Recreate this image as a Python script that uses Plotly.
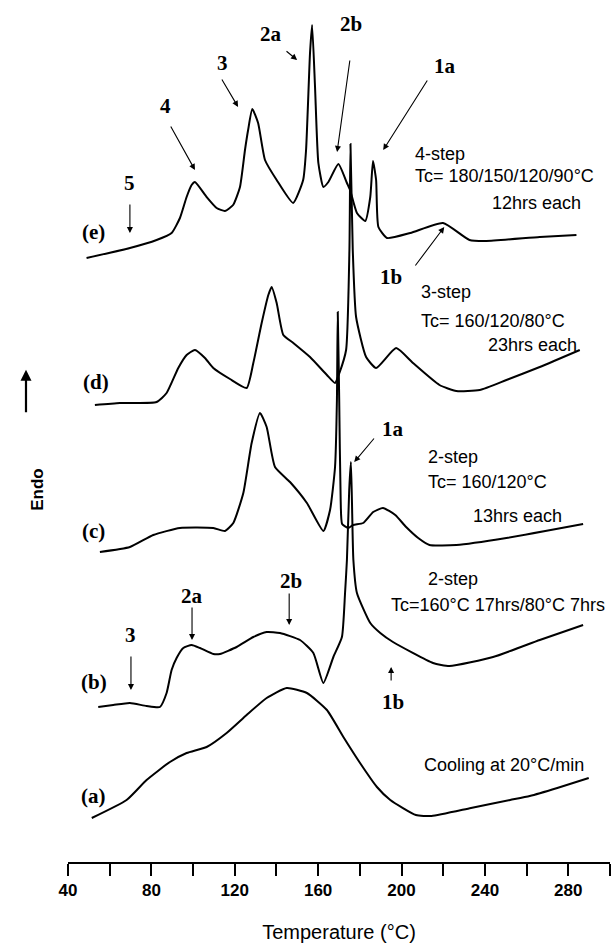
import plotly.graph_objects as go

# ---------------- data (temperature in °C, endotherm signal in arbitrary offset units) ----------------
temp_e = [48.9, 69.7, 82.5, 89.7, 93.7, 96.9, 99.3, 100.9, 106.5, 111.3, 115.3, 119.2, 122.5, 124.9,
          126.4, 128.4, 131.2, 134.5, 140.1, 148.0, 152.8, 154.2, 156.1, 157.1, 158.5, 160.1, 162.5,
          164.9, 169.7, 173.8, 175.3, 178.6, 182.6, 185.0, 186.3, 187.8, 188.9, 193.0, 204.2, 219.9,
          232.6, 240.7, 266.3, 283.9]
endo_e = [60.4, 61.4, 62.2, 62.9, 64.4, 66.5, 67.7, 68.0, 66.5, 65.4, 65.1, 65.7, 67.5, 71.2,
          73.2, 75.3, 73.9, 70.2, 68.2, 65.9, 68.2, 71.2, 80.9, 83.7, 77.5, 69.9, 67.5,
          68.0, 69.8, 67.9, 67.2, 64.9, 64.1, 66.5, 70.1, 68.2, 63.5, 62.4, 62.9, 63.9,
          62.2, 62.1, 62.5, 62.7]

temp_d = [52.9, 64.9, 82.5, 87.3, 92.9, 96.9, 100.9, 105.7, 109.7, 117.7, 125.7, 128.9, 132.9,
          136.1, 137.7, 140.1, 143.3, 148.1, 156.1, 164.2, 168.1, 170.2, 173.4, 175.0, 175.5,
          176.6, 178.2, 183.0, 187.8, 197.4, 205.5, 218.2, 226.3, 237.5, 250.3, 266.3, 285.5]
endo_d = [45.7, 45.9, 46.0, 46.9, 49.4, 50.7, 51.2, 50.4, 49.4, 48.3, 47.4, 49.9, 53.9,
          56.7, 57.5, 55.9, 52.7, 51.9, 50.5, 48.7, 47.9, 48.9, 51.2, 61.2, 71.8,
          61.2, 54.5, 50.5, 49.4, 51.4, 49.9, 47.7, 47.1, 47.2, 48.2, 49.5, 51.2]

temp_c = [55.3, 69.7, 80.9, 93.7, 109.7, 115.3, 119.3, 124.1, 128.1, 132.1, 135.3, 139.3, 146.5,
          154.6, 162.5, 165.7, 168.1, 169.0, 169.4, 170.1, 170.8, 171.5, 174.4, 176.8, 181.6,
          186.4, 191.1, 197.0, 202.2, 208.0, 213.4, 226.3, 250.3, 287.1]
endo_c = [31.0, 31.5, 32.7, 33.4, 33.4, 33.1, 33.9, 36.9, 41.9, 44.9, 43.5, 39.5, 38.0,
          35.9, 33.1, 35.2, 39.5, 46.2, 55.0, 46.2, 36.2, 33.8, 33.4, 33.7, 33.9,
          35.0, 35.4, 34.7, 33.5, 32.4, 31.7, 31.7, 32.4, 33.8]

temp_b = [54.5, 61.7, 69.7, 77.7, 84.1, 87.3, 89.7, 92.1, 95.3, 99.3, 103.3, 109.7, 112.9,
          120.9, 128.9, 135.3, 141.7, 151.3, 157.7, 162.5, 167.3, 171.4, 172.9, 173.8, 174.9,
          175.7, 176.2, 176.9, 178.6, 185.0, 189.8, 195.9, 215.1, 223.0, 243.9, 266.3, 287.1]
endo_b = [15.5, 15.7, 15.9, 15.6, 15.5, 16.9, 19.2, 20.4, 21.4, 21.7, 21.4, 20.8, 20.8,
          21.5, 22.5, 23.0, 22.9, 22.2, 20.9, 17.9, 20.5, 22.5, 26.9, 30.2, 37.2,
          40.0, 36.2, 30.2, 26.9, 23.9, 22.9, 22.0, 19.9, 19.6, 20.5, 22.2, 23.7]

temp_a = [51.4, 68.1, 77.7, 88.9, 96.9, 106.5, 116.1, 125.7, 135.3, 144.9, 154.6, 164.2, 172.1,
          180.1, 188.2, 194.6, 206.9, 214.4, 233.3, 252.1, 261.5, 274.7, 289.8]
endo_a = [4.4, 6.2, 8.2, 10.0, 10.9, 11.5, 12.9, 14.7, 16.4, 17.4, 16.9, 15.2, 12.5,
          9.9, 7.5, 6.2, 4.7, 4.6, 5.4, 6.2, 6.6, 7.4, 8.4]

curve_labels = ["(a)", "(b)", "(c)", "(d)", "(e)"]
tick_values = list(range(40, 301, 20))
tick_labels = ["40", "", "80", "", "120", "", "160", "", "200", "", "240", "", "280", ""]

fig = go.Figure()
for t, y in [(temp_a, endo_a), (temp_b, endo_b), (temp_c, endo_c), (temp_d, endo_d), (temp_e, endo_e)]:
    fig.add_trace(go.Scatter(x=t, y=y, mode="lines",
                             line=dict(color="black", width=2, shape="spline", smoothing=0.5),
                             showlegend=False, hoverinfo="skip"))

serif = dict(family="Liberation Serif", size=21, color="black", weight="bold")
sans = dict(family="Liberation Sans", size=18, color="black")

ann = []
# curve labels
for lab, (x, y) in zip(curve_labels, [(52.0, 6.6), (52.4, 18.0), (52.4, 33.1), (53.4, 48.0), (52.0, 63.0)]):
    ann.append(dict(x=x, y=y, text=lab, showarrow=False, font=serif, xanchor="center", yanchor="middle"))

# peak labels with arrows: (text, text_x, text_y, tail_x, tail_y, tip_x, tip_y)
peaks = [
    ("5", 69.7, 67.9, 69.7, 65.9, 69.7, 62.9),
    ("4", 87.0, 75.6, 88.9, 73.7, 100.9, 69.2),
    ("3", 114.3, 79.9, 113.4, 78.4, 121.6, 75.5),
    ("2a", 137.4, 82.8, 144.1, 81.2, 149.9, 80.2),
    ("2b", 175.8, 83.8, 175.3, 80.3, 169.1, 71.0),
    ("1a", 221.0, 79.6, 212.8, 78.3, 191.2, 71.2),
    ("1b", 195.0, 58.5, 206.1, 59.5, 220.5, 63.5),
    ("1a", 196.0, 43.3, 187.4, 42.5, 177.3, 40.0),
    ("2b", 147.0, 28.1, 146.1, 27.0, 146.1, 23.7),
    ("2a", 99.5, 26.6, 99.5, 25.6, 99.5, 22.2),
    ("3", 70.2, 22.7, 70.2, 20.7, 70.2, 17.2),
    ("1b", 196.0, 16.0, 195.0, 18.0, 195.0, 19.5),
]
for txt, tx, ty, ax_, ay_, x, y in peaks:
    ann.append(dict(x=tx, y=ty, text=txt, showarrow=False, font=serif, xanchor="center", yanchor="middle"))
    ann.append(dict(x=x, y=y, ax=ax_, ay=ay_, xref="x", yref="y", axref="x", ayref="y", text="",
                    showarrow=True, arrowhead=2, arrowsize=1.1, arrowwidth=1.1, arrowcolor="black"))

# condition texts (left anchored)
notes = [
    ("4-step", 205.5, 70.8), ("Tc= 180/150/120/90°C", 205.5, 68.6), ("12hrs each", 242.3, 65.9),
    ("3-step", 208.6, 57.0), ("Tc= 160/120/80°C", 208.6, 54.1), ("23hrs each", 240.7, 51.7),
    ("2-step", 211.8, 40.5), ("Tc= 160/120°C", 211.8, 38.0), ("13hrs each", 233.5, 34.6),
    ("2-step", 211.8, 28.3), ("Tc=160°C 17hrs/80°C 7hrs", 194.2, 25.7),
    ("Cooling at 20°C/min", 209.7, 9.7),
]
for txt, x, y in notes:
    ann.append(dict(x=x, y=y, text=txt, showarrow=False, font=sans, xanchor="left", yanchor="middle"))

# Endo label and arrow (outside plot at left, paper coordinates)
ann.append(dict(x=-0.078, y=0.432, xref="paper", yref="paper", text="Endo", textangle=-90,
                showarrow=False, font=dict(family="Liberation Sans", size=17, color="black", weight="bold")))
ann.append(dict(x=-0.0775, y=0.571, xref="paper", yref="paper", ax=0, ay=44, text="",
                showarrow=True, arrowhead=2, arrowsize=1.0, arrowwidth=2.2, arrowcolor="black"))

fig.update_layout(
    width=612, height=952,
    margin=dict(l=68, r=2, t=0, b=90),
    paper_bgcolor="white", plot_bgcolor="white",
    annotations=ann,
    xaxis=dict(range=[40, 300], tickvals=tick_values, ticktext=tick_labels, ticks="outside",
               ticklen=12, tickwidth=1.5, tickcolor="black", showline=True, linewidth=2,
               linecolor="black", showgrid=False, zeroline=False,
               tickfont=dict(family="Liberation Sans", size=17, color="black", weight="bold"),
               title=dict(text="Temperature (°C)", standoff=26,
                          font=dict(family="Liberation Sans", size=20, color="black"))),
    yaxis=dict(range=[0, 86.2], visible=False),
)

fig.write_html("out.html")
